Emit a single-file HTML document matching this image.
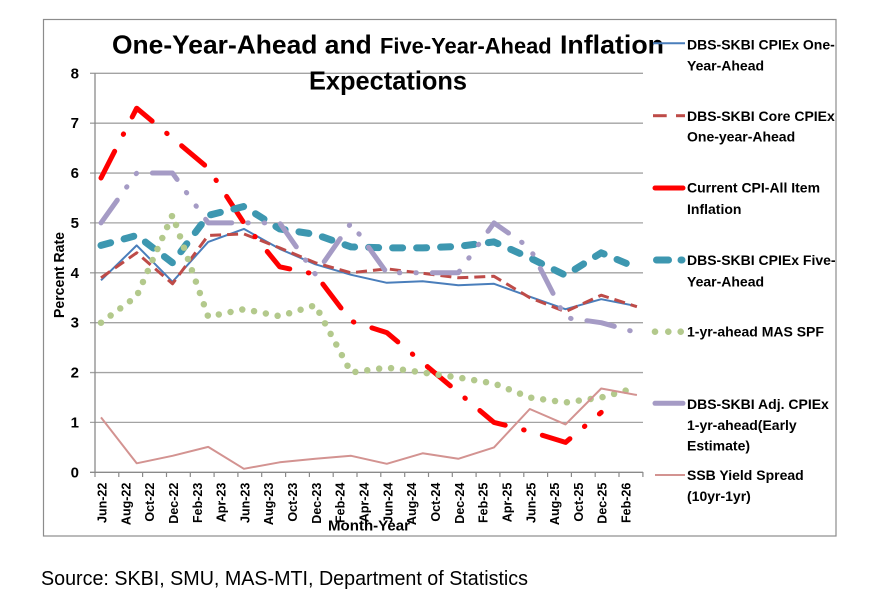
<!DOCTYPE html>
<html>
<head>
<meta charset="utf-8">
<style>
  html,body{margin:0;padding:0;background:#fff;}
  svg{display:block;}
  text{font-family:"Liberation Sans",Arial,sans-serif;fill:#000;}
</style>
</head>
<body>
<svg width="892" height="601" viewBox="0 0 892 601" xmlns="http://www.w3.org/2000/svg">
  <rect x="0" y="0" width="892" height="601" fill="#fff"/>
  <!-- chart border -->
  <rect x="43.5" y="19.5" width="792.5" height="516.5" fill="none" stroke="#8c8c8c" stroke-width="1.2"/>

  <!-- gridlines -->
  <g stroke="#a3a3a3" stroke-width="1.3">
    <line x1="90" y1="73.3" x2="643" y2="73.3"/>
    <line x1="90" y1="123.2" x2="643" y2="123.2"/>
    <line x1="90" y1="173.05" x2="643" y2="173.05"/>
    <line x1="90" y1="222.9" x2="643" y2="222.9"/>
    <line x1="90" y1="272.8" x2="643" y2="272.8"/>
    <line x1="90" y1="322.7" x2="643" y2="322.7"/>
    <line x1="90" y1="372.55" x2="643" y2="372.55"/>
    <line x1="90" y1="422.4" x2="643" y2="422.4"/>
  </g>
  <!-- axes -->
  <g stroke="#8a8a8a" stroke-width="1.3">
    <line x1="95" y1="73.3" x2="95" y2="472.3"/>
    <line x1="90" y1="472.3" x2="643" y2="472.3"/>
  </g>
  <!-- x ticks -->
  <g stroke="#8a8a8a" stroke-width="1.2">
    <line x1="95" y1="472" x2="95" y2="477"/><line x1="118.8" y1="472" x2="118.8" y2="477"/>
    <line x1="142.6" y1="472" x2="142.6" y2="477"/><line x1="166.5" y1="472" x2="166.5" y2="477"/>
    <line x1="190.3" y1="472" x2="190.3" y2="477"/><line x1="214.1" y1="472" x2="214.1" y2="477"/>
    <line x1="237.9" y1="472" x2="237.9" y2="477"/><line x1="261.7" y1="472" x2="261.7" y2="477"/>
    <line x1="285.6" y1="472" x2="285.6" y2="477"/><line x1="309.4" y1="472" x2="309.4" y2="477"/>
    <line x1="333.2" y1="472" x2="333.2" y2="477"/><line x1="357" y1="472" x2="357" y2="477"/>
    <line x1="380.8" y1="472" x2="380.8" y2="477"/><line x1="404.7" y1="472" x2="404.7" y2="477"/>
    <line x1="428.5" y1="472" x2="428.5" y2="477"/><line x1="452.3" y1="472" x2="452.3" y2="477"/>
    <line x1="476.1" y1="472" x2="476.1" y2="477"/><line x1="499.9" y1="472" x2="499.9" y2="477"/>
    <line x1="523.8" y1="472" x2="523.8" y2="477"/><line x1="547.6" y1="472" x2="547.6" y2="477"/>
    <line x1="571.4" y1="472" x2="571.4" y2="477"/><line x1="595.2" y1="472" x2="595.2" y2="477"/>
    <line x1="619" y1="472" x2="619" y2="477"/><line x1="642.9" y1="472" x2="642.9" y2="477"/>
  </g>

  <!-- y labels -->
  <g font-size="15" font-weight="bold" text-anchor="end">
    <text x="79" y="78.3">8</text>
    <text x="79" y="128.2">7</text>
    <text x="79" y="178">6</text>
    <text x="79" y="227.9">5</text>
    <text x="79" y="277.8">4</text>
    <text x="79" y="327.7">3</text>
    <text x="79" y="377.5">2</text>
    <text x="79" y="427.4">1</text>
    <text x="79" y="477.3">0</text>
  </g>

  <!-- x labels -->
  <g font-size="12.5" font-weight="bold" text-anchor="end">
    <text transform="translate(106.5,482.7) rotate(-90)">Jun-22</text>
    <text transform="translate(130.3,482.7) rotate(-90)">Aug-22</text>
    <text transform="translate(154.1,482.7) rotate(-90)">Oct-22</text>
    <text transform="translate(178,482.7) rotate(-90)">Dec-22</text>
    <text transform="translate(201.8,482.7) rotate(-90)">Feb-23</text>
    <text transform="translate(225.6,482.7) rotate(-90)">Apr-23</text>
    <text transform="translate(249.4,482.7) rotate(-90)">Jun-23</text>
    <text transform="translate(273.2,482.7) rotate(-90)">Aug-23</text>
    <text transform="translate(297.1,482.7) rotate(-90)">Oct-23</text>
    <text transform="translate(320.9,482.7) rotate(-90)">Dec-23</text>
    <text transform="translate(344.7,482.7) rotate(-90)">Feb-24</text>
    <text transform="translate(368.5,482.7) rotate(-90)">Apr-24</text>
    <text transform="translate(392.3,482.7) rotate(-90)">Jun-24</text>
    <text transform="translate(416.2,482.7) rotate(-90)">Aug-24</text>
    <text transform="translate(440,482.7) rotate(-90)">Oct-24</text>
    <text transform="translate(463.8,482.7) rotate(-90)">Dec-24</text>
    <text transform="translate(487.6,482.7) rotate(-90)">Feb-25</text>
    <text transform="translate(511.4,482.7) rotate(-90)">Apr-25</text>
    <text transform="translate(535.3,482.7) rotate(-90)">Jun-25</text>
    <text transform="translate(559.1,482.7) rotate(-90)">Aug-25</text>
    <text transform="translate(582.9,482.7) rotate(-90)">Oct-25</text>
    <text transform="translate(606.7,482.7) rotate(-90)">Dec-25</text>
    <text transform="translate(630.5,482.7) rotate(-90)">Feb-26</text>
  </g>

  <!-- axis titles -->
  <text x="328" y="530.7" font-size="15" font-weight="bold" textLength="82" lengthAdjust="spacingAndGlyphs">Month-Year</text>
  <text transform="translate(64,275) rotate(-90)" font-size="15" font-weight="bold" text-anchor="middle" textLength="86" lengthAdjust="spacingAndGlyphs">Percent Rate</text>

  <!-- series -->
  <g fill="none" stroke-linejoin="round">
    <!-- 1 DBS-SKBI CPIEx One-Year-Ahead -->
    <polyline stroke="#4a7ebb" stroke-width="2"
      points="101,280.3 136.7,245.4 172.5,281.8 208.2,241.9 243.9,228.9 279.7,248.9 315.4,264.3 351.1,274.8 386.8,282.8 422.6,281.3 458.3,285.3 494,283.8 529.8,296.7 565.5,309.2 601.2,299.2 636.9,306.2"/>
    <!-- 2 Core -->
    <polyline stroke="#be4b48" stroke-width="3" stroke-dasharray="11 6"
      points="101,277.8 136.7,252.8 172.5,283.8 208.2,235.4 243.9,233.9 279.7,247.9 315.4,262.8 351.1,272.8 386.8,268.8 422.6,273.3 458.3,277.8 494,276.3 529.8,297.7 565.5,311.7 601.2,295.2 636.9,306.7"/>
    <!-- 3 Current CPI -->
    <polyline stroke="#ff0000" stroke-width="5" stroke-linecap="round" stroke-dasharray="30 19 0.5 19"
      points="101,178 136.7,108.2 172.5,138.1 208.2,168.1 243.9,222.9 279.7,266.8 315.4,274.3 351.1,321.2 386.8,332.6 422.6,362.6 458.3,392.5 494,422.4 529.8,431.4 565.5,442.4 601.2,412.4"/>
    <!-- 4 Five-Year-Ahead -->
    <polyline stroke="#3d97b0" stroke-width="7" stroke-linecap="round" stroke-dasharray="10 14"
      points="101,245.4 136.7,235.4 172.5,262.8 208.2,215.4 243.9,206.5 279.7,228.9 315.4,234.4 351.1,246.9 386.8,247.9 422.6,247.9 458.3,246.4 494,241.9 529.8,257.8 565.5,275.3 601.2,252.8 636.9,267.8"/>
    <!-- 5 MAS SPF -->
    <polyline stroke="#b3c98c" stroke-width="6.5" stroke-linecap="round" stroke-dasharray="0 12"
      points="101,322.7 136.7,296.2 172.5,214.9 208.2,316.7 243.9,309.2 279.7,316.2 315.4,305.2 351.1,372.5 386.8,367.6 422.6,372.5 458.3,377.5 494,383.5 529.8,397.5 565.5,402.5 601.2,397.5 636.9,387.5"/>
    <!-- 6 Adj. CPIEx -->
    <polyline stroke="#a59bc5" stroke-width="5" stroke-linecap="round" stroke-dasharray="28 16 0.5 16 0.5 16"
      points="101,222.9 136.7,173.05 172.5,173.05 208.2,222.9 243.9,222.9 279.7,222.9 315.4,274.3 351.1,222.9 386.8,272.8 422.6,272.8 458.3,272.8 494,222.9 529.8,247.9 565.5,317.7 601.2,322.7 636.9,332.6"/>
    <!-- 7 SSB Yield Spread -->
    <polyline stroke="#d39391" stroke-width="2"
      points="101,417.4 136.7,463.3 172.5,455.8 208.2,446.9 243.9,468.8 279.7,462.3 315.4,458.8 351.1,455.8 386.8,463.8 422.6,453.3 458.3,458.8 494,447.4 529.8,409 565.5,424.4 601.2,388.5 636.9,395"/>
  </g>

  <!-- title -->
  <g font-weight="bold">
    <text x="112" y="53.3" font-size="26" textLength="259.7" lengthAdjust="spacingAndGlyphs">One-Year-Ahead and</text>
    <text x="380" y="53.3" font-size="22" textLength="171.7" lengthAdjust="spacingAndGlyphs">Five-Year-Ahead</text>
    <text x="560" y="53.3" font-size="26" textLength="104" lengthAdjust="spacingAndGlyphs">Inflation</text>
    <text x="309" y="89.5" font-size="26" textLength="158" lengthAdjust="spacingAndGlyphs">Expectations</text>
  </g>

  <!-- legend samples -->
  <line x1="653" y1="43.3" x2="685" y2="43.3" stroke="#4a7ebb" stroke-width="2"/>
  <line x1="653" y1="115.7" x2="666.7" y2="115.7" stroke="#be4b48" stroke-width="3"/>
  <line x1="676" y1="115.7" x2="685" y2="115.7" stroke="#be4b48" stroke-width="3"/>
  <line x1="655" y1="188" x2="683" y2="188" stroke="#ff0000" stroke-width="5" stroke-linecap="round"/>
  <line x1="656.5" y1="260" x2="668.5" y2="260" stroke="#3d97b0" stroke-width="7" stroke-linecap="round"/>
  <line x1="681" y1="260" x2="682" y2="260" stroke="#3d97b0" stroke-width="7" stroke-linecap="round"/>
  <circle cx="655" cy="331.7" r="3.3" fill="#b3c98c"/>
  <circle cx="668.3" cy="331.7" r="3.3" fill="#b3c98c"/>
  <circle cx="680.7" cy="331.7" r="3.3" fill="#b3c98c"/>
  <line x1="655" y1="403.3" x2="683" y2="403.3" stroke="#a59bc5" stroke-width="5" stroke-linecap="round"/>
  <line x1="655" y1="475" x2="685" y2="475" stroke="#d39391" stroke-width="2"/>

  <!-- legend text -->
  <g font-size="14" font-weight="bold">
    <text x="687" y="49.3">DBS-SKBI CPIEx One-</text>
    <text x="687" y="70.7">Year-Ahead</text>
    <text x="687" y="121">DBS-SKBI Core CPIEx</text>
    <text x="687" y="141.7">One-year-Ahead</text>
    <text x="687" y="192.7">Current CPI-All Item</text>
    <text x="687" y="214">Inflation</text>
    <text x="687" y="265">DBS-SKBI CPIEx Five-</text>
    <text x="687" y="286.4">Year-Ahead</text>
    <text x="687" y="336.7">1-yr-ahead MAS SPF</text>
    <text x="687" y="409">DBS-SKBI Adj. CPIEx</text>
    <text x="687" y="430">1-yr-ahead(Early</text>
    <text x="687" y="450.7">Estimate)</text>
    <text x="687" y="480">SSB Yield Spread</text>
    <text x="687" y="501">(10yr-1yr)</text>
  </g>

  <!-- source -->
  <text x="41" y="585" font-size="20" textLength="487" lengthAdjust="spacingAndGlyphs">Source: SKBI, SMU, MAS-MTI, Department of Statistics</text>
</svg>
</body>
</html>
